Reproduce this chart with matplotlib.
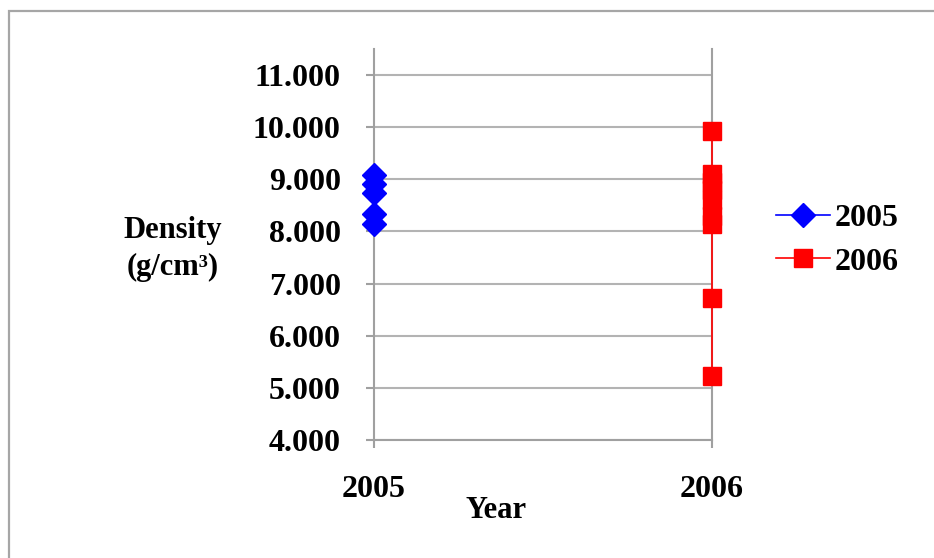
import matplotlib
matplotlib.use("Agg")
import matplotlib.pyplot as plt
from matplotlib.patches import Rectangle

plt.rcParams["font.family"] = ["Liberation Serif", "DejaVu Serif"]
plt.rcParams["font.weight"] = "bold"

# density readings per sampling year (g/cm3)
years = [2005, 2006]
density_2005 = [9.08, 8.92, 8.74, 8.33, 8.14]
density_2006 = [9.92, 9.10, 8.95, 8.80, 8.60, 8.30, 8.15, 6.73, 5.23]
y_ticks = [4, 5, 6, 7, 8, 9, 10, 11]

W, H = 934, 558
FS = 23
fig = plt.figure(figsize=(W / 100, H / 100), dpi=100)

# outer chart frame (runs off the right/bottom edge)
fig.patches.append(Rectangle((9 / W, -0.1), 1.2, 1 - 11 / H + 0.1,
                             transform=fig.transFigure, fill=False,
                             edgecolor="#a6a6a6", lw=1.6))

ax = fig.add_axes([374 / W, 1 - 440 / H, (712 - 374) / W, (440 - 49) / H])

ax.plot([years[0]] * len(density_2005), density_2005, color="#0000ff",
        lw=1.2, marker="D", ms=12, mec="#0000ff", mfc="#0000ff", label="2005",
        zorder=3, clip_on=False)
ax.plot([years[1]] * len(density_2006), density_2006, color="#ff0000",
        lw=1.2, marker="s", ms=12.5, mec="#ff0000", mfc="#ff0000", label="2006",
        zorder=3, clip_on=False)

ax.set_xlim(years[0], years[1])
ax.set_ylim(4, 11.5)
ax.set_xticks(years)
ax.set_xticklabels([str(y) for y in years])
ax.set_yticks(y_ticks)
ax.set_yticklabels([f"{v:.3f}" for v in y_ticks])
ax.yaxis.grid(True, color="#b3b3b3", lw=1.5)
ax.set_axisbelow(True)

for side in ("left", "bottom", "right"):
    ax.spines[side].set_color("#a0a0a0")
    ax.spines[side].set_linewidth(1.5)
ax.spines["top"].set_visible(False)
ax.tick_params(axis="both", direction="out", length=6, width=1.5,
               color="#a0a0a0", labelsize=FS)
ax.tick_params(axis="y", pad=18)
ax.tick_params(axis="x", pad=19.5)

fig.text(173 / W, 1 - 249 / H, "Density\n(g/cm³)", ha="center", va="center",
         fontsize=22, fontweight="bold", linespacing=1.4)
fig.text(496 / W, 1 - 511 / H, "Year", ha="center", va="center",
         fontsize=22, fontweight="bold")

leg = ax.legend(loc="center left", bbox_to_anchor=(776 / W, 1 - 240 / H),
                bbox_transform=fig.transFigure, frameon=False, fontsize=FS,
                handlelength=1.7, handletextpad=0.15, labelspacing=0.45,
                borderaxespad=0, borderpad=0)

fig.savefig("out.png", dpi=100)
